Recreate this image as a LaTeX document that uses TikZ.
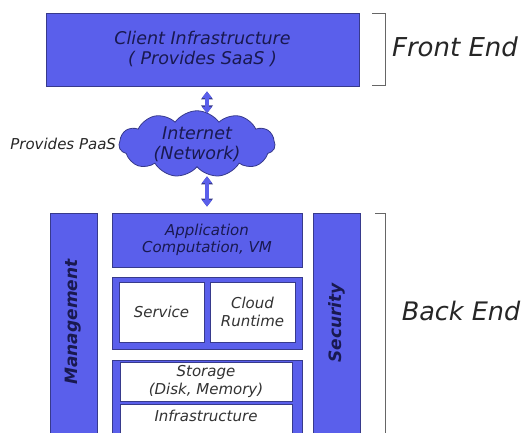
\documentclass[tikz,border=0pt]{standalone}
\usepackage{fontspec}
\setmainfont{DejaVu Sans}
\usepackage{tikz}
\usetikzlibrary{positioning,shapes.symbols,arrows.meta}

\definecolor{blk}{RGB}{90,95,235}
\definecolor{edge}{RGB}{55,58,140}
\definecolor{ink}{RGB}{25,25,80}

\begin{document}
\begin{tikzpicture}[x=1pt, y=-1pt,
    main/.style = {draw=edge, fill=blk, thick, text=ink, font=\itshape\fontsize{15}{17.5}\selectfont, align=center, inner sep=0pt},
    inner/.style = {draw=edge, fill=white, thick, text=black!80, font=\itshape\fontsize{15}{17.5}\selectfont, align=center, inner sep=0pt},
    side/.style = {main, font=\itshape\bfseries\fontsize{17}{19}\selectfont},
    vtext/.style = {side, draw=none, fill=none, rotate=90},
    link/.style = {line width=3.4pt, blk, {Triangle[width=9.5pt,length=6.5pt]}-{Triangle[width=9.5pt,length=6.5pt]},
        preaction={draw=edge, line width=4.8pt, {Triangle[width=11.5pt,length=8pt]}-{Triangle[width=11.5pt,length=8pt]}}},
    brace/.style = {draw=black!60, thin}]
    \useasboundingbox (0,0) rectangle (523,432);

    \node[main, minimum width=313pt, minimum height=73pt, font=\itshape\fontsize{17.5}{20}\selectfont] (client) at (202.5,49.5) {Client Infrastructure\\( Provides SaaS )};
    \node[main, cloud, cloud puffs=11, cloud puff arc=110, aspect=2.6, minimum width=156pt, minimum height=62pt, font=\itshape\fontsize{17.5}{20}\selectfont] (net) at (197,144) {Internet\\(Network)};
    \node[font=\itshape\fontsize{15}{17}\selectfont, text=black!85, left=-1pt of net] (paas) {Provides PaaS};

    \node[side, minimum width=47pt, minimum height=227pt] (mgmt) at (73.5,326.5) {};
    \node[vtext] (mgmtlbl) at (73.5,322) {Management};
    \node[main, minimum width=190pt, minimum height=54pt] (app) at (207,240) {Application\\Computation, VM};
    \node[main, minimum width=190pt, minimum height=72pt] (mid) at (207,313) {};
    \node[inner, minimum width=85pt, minimum height=60pt] (service) at (161.5,312) {Service};
    \node[inner, minimum width=85pt, minimum height=60pt] (runtime) at (252.5,312) {Cloud\\Runtime};
    \node[main, minimum width=190pt, minimum height=80pt] (low) at (207,400) {};
    \node[inner, minimum width=172pt, minimum height=39pt] (storage) at (206,381.5) {Storage\\(Disk, Memory)};
    \node[inner, minimum width=172pt, minimum height=36pt, anchor=north] (infra) at (206,404) {\raisebox{13pt}{Infrastructure}};
    \node[side, minimum width=47pt, minimum height=227pt] (sec) at (336.5,326.5) {};
    \node[vtext] (seclbl) at (336.5,323) {Security};

    \draw[link, shorten <=5pt, shorten >=-3pt] (client.south -| app.north) -- (net.north -| app.north);
    \draw[link, shorten <=9pt, shorten >=6pt] (net.south -| app.north) -- (app.north);

    % brackets on the right
    \coordinate (f1) at (372,13);
    \coordinate (f2) at (372,85);
    \coordinate (b1) at (375,213);
    \coordinate (b2) at (375,440);
    \draw[brace] (f1) -- ++(13,0) |- (f2);
    \draw[brace] (b1) -- ++(10,0) |- (b2);
    \node[font=\itshape\fontsize{26}{30}\selectfont, text=black!85] (front) at (455,47) {Front End};
    \node[font=\itshape\fontsize{25.5}{30}\selectfont, text=black!85] (back) at (461,311) {Back End};
\end{tikzpicture}
\end{document}
